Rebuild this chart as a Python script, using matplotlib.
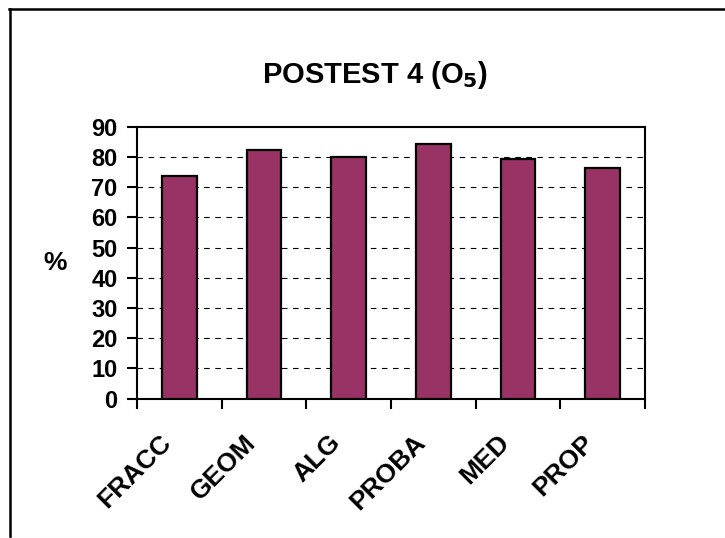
import matplotlib
matplotlib.use("Agg")
import matplotlib.pyplot as plt
from matplotlib.lines import Line2D
from matplotlib.transforms import ScaledTranslation
import numpy as np

categories = ["FRACC", "GEOM", "ALG", "PROBA", "MED", "PROP"]
values = [73.7, 82.2, 79.9, 84.3, 79.2, 76.4]
yticks = [0, 10, 20, 30, 40, 50, 60, 70, 80, 90]

plt.rcParams['font.family'] = ['Liberation Sans', 'DejaVu Sans']
plt.rcParams['font.weight'] = 'bold'

fig = plt.figure(figsize=(7.25, 5.38), dpi=100)
W, H = 725, 538
ax = fig.add_axes([137 / W, 1 - 398.6 / H, (645 - 137) / W, (398.6 - 126.8) / H])

x = np.arange(len(categories))
ax.bar(x, values, width=0.41, color="#993366", edgecolor="black", linewidth=1.6, zorder=3)

ax.set_xlim(-0.5, len(categories) - 0.5)
ax.set_ylim(0, 90)
ax.set_yticks(yticks)
ax.set_yticklabels([str(t) for t in yticks], fontsize=17, fontweight='bold')
for t in yticks[1:-1]:
    ax.axhline(t, color="black", linestyle=(0, (5, 5)), linewidth=0.8, zorder=1)

ax.set_xticks(np.arange(len(categories) + 1) - 0.5, minor=False)
ax.set_xticklabels([])
ax.set_xticks(x, minor=True)
ax.set_xticklabels(categories, minor=True, rotation=45, ha='right', va='center',
                   rotation_mode='anchor', fontsize=19, fontweight='bold')
ax.tick_params(axis='x', which='minor', length=0, pad=29)
ax.tick_params(axis='x', which='major', direction='out', length=7, width=1.5)
ax.tick_params(axis='y', direction='out', length=7, width=1.5, pad=7)
off = ScaledTranslation(-12 / 100, 0, fig.dpi_scale_trans)
for lab in ax.get_xticklabels(minor=True):
    lab.set_transform(lab.get_transform() + off)

for s in ax.spines.values():
    s.set_linewidth(1.5)
    s.set_color("black")

ax.set_ylabel("%", fontsize=19, fontweight='bold', rotation=0, labelpad=26, va='center')

fig.text(375 / W, 1 - 75 / H, r"POSTEST 4 (O$_\mathbf{5}$)", ha='center', va='center',
         fontsize=21, fontweight='bold')

fig.lines.append(Line2D([9 / W, 1], [1 - 9 / H, 1 - 9 / H], transform=fig.transFigure,
                        color='black', linewidth=1.8))
fig.lines.append(Line2D([10 / W, 10 / W], [1 - 9 / H, 0], transform=fig.transFigure,
                        color='black', linewidth=1.8))
fig.lines.append(Line2D([0, 1], [0.5 / H, 0.5 / H], transform=fig.transFigure,
                        color='#e6e6e6', linewidth=1.0))

fig.savefig("out.png", dpi=100)
